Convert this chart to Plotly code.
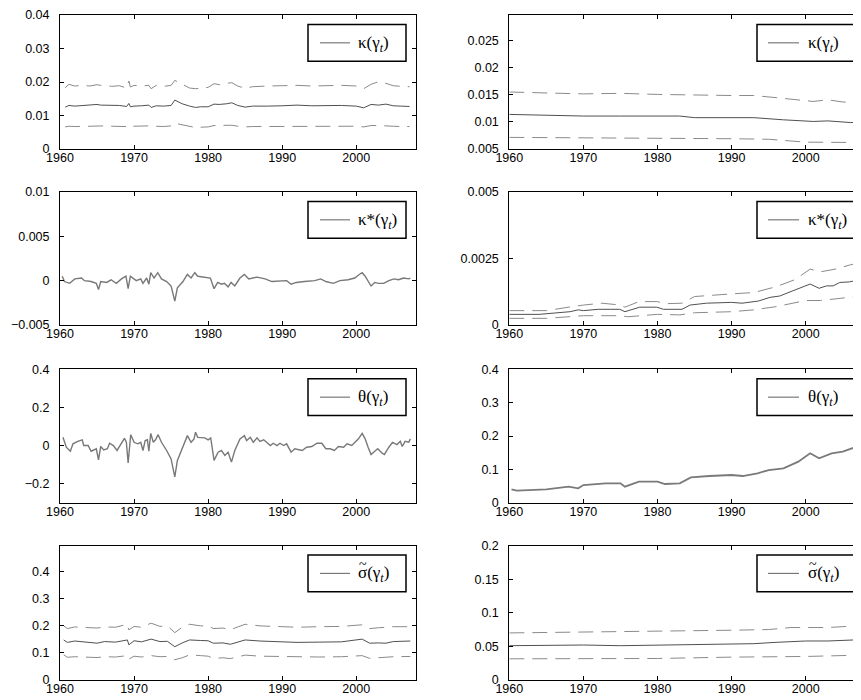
import plotly.graph_objects as go

# page body has an 8px margin, so the figure is drawn 8px smaller and all
# reference pixel positions are shifted by OFF
OFF = 8
W, H = 861 - OFF, 700 - OFF

# ---------------- data ----------------
x_ticks = [1960, 1970, 1980, 1990, 2000]
x_tick_labels = ["1960", "1970", "1980", "1990", "2000"]

# Row 1 left: kappa(gamma_t)
kap_l_years = [1960.7, 1961.2, 1962, 1963, 1964, 1965, 1965.5, 1966, 1967, 1968,
               1969, 1969.3, 1969.5, 1970, 1971, 1972, 1972.3, 1973, 1974, 1975,
               1975.5, 1976.5, 1977.5, 1978.3, 1979, 1980, 1980.8, 1981.5, 1982.5, 1983.2,
               1984, 1985, 1986, 1987, 1988, 1990, 1992, 1994, 1996, 1998,
               2000, 2001, 2002, 2003, 2004, 2005, 2006, 2007.2]
kap_l_mid = [0.0125, 0.0130, 0.0128, 0.0129, 0.0130, 0.0133, 0.0131, 0.0131, 0.0129, 0.0130,
             0.0127, 0.0136, 0.0126, 0.0128, 0.0129, 0.0131, 0.0124, 0.0129, 0.0128, 0.0130,
             0.0146, 0.0135, 0.0128, 0.0124, 0.0126, 0.0126, 0.0134, 0.0133, 0.0135, 0.0138,
             0.0130, 0.0125, 0.0128, 0.0127, 0.0128, 0.0129, 0.0131, 0.0129, 0.0130, 0.0130,
             0.0128, 0.0123, 0.0133, 0.0131, 0.0134, 0.0129, 0.0128, 0.0127]
kap_l_up = [0.0183, 0.0193, 0.0188, 0.0190, 0.0188, 0.0192, 0.0190, 0.0190, 0.0187, 0.0189,
            0.0182, 0.0203, 0.0185, 0.0190, 0.0188, 0.0190, 0.0180, 0.0190, 0.0187, 0.0190,
            0.0205, 0.0193, 0.0182, 0.0180, 0.0182, 0.0184, 0.0195, 0.0192, 0.0196, 0.0198,
            0.0188, 0.0181, 0.0186, 0.0186, 0.0188, 0.0189, 0.0190, 0.0188, 0.0190, 0.0190,
            0.0188, 0.0180, 0.0193, 0.0201, 0.0196, 0.0189, 0.0187, 0.0186]
kap_l_lo = [0.0066, 0.0068, 0.0067, 0.0068, 0.0069, 0.0068, 0.0069, 0.0069, 0.0068, 0.0068,
            0.0067, 0.0070, 0.0066, 0.0068, 0.0068, 0.0069, 0.0066, 0.0068, 0.0067, 0.0069,
            0.0077, 0.0072, 0.0068, 0.0064, 0.0065, 0.0066, 0.0070, 0.0070, 0.0070, 0.0071,
            0.0068, 0.0066, 0.0067, 0.0067, 0.0068, 0.0068, 0.0069, 0.0068, 0.0068, 0.0069,
            0.0068, 0.0066, 0.0070, 0.0070, 0.0070, 0.0068, 0.0067, 0.0067]

# Row 1 right: kappa(gamma_t)
kap_r_years = [1960, 1970, 1975, 1980, 1983, 1985, 1990, 1993, 1997, 2001, 2003, 2006, 2007.5]
kap_r_mid = [0.0114, 0.0111, 0.0111, 0.0111, 0.0111, 0.0108, 0.0108, 0.0108, 0.0104, 0.0101,
             0.0102, 0.0099, 0.0099]
kap_r_up_years = [1960, 1970, 1975, 1980, 1990, 1993, 1996, 2001, 2003, 2005, 2007.5]
kap_r_up = [0.01555, 0.0152, 0.0153, 0.0151, 0.0149, 0.0149, 0.0145, 0.0138, 0.0141, 0.0137, 0.0136]
kap_r_lo_years = [1960, 1970, 1980, 1990, 1995, 2000, 2007.5]
kap_r_lo = [0.00715, 0.0071, 0.0070, 0.0069, 0.0068, 0.00627, 0.0062]

# Row 2 left: kappa*(gamma_t)
ks_l_years = [1960.3, 1960.6, 1961.3, 1962.0, 1962.9, 1963.3, 1964.2, 1964.9, 1965.2, 1965.5,
              1966.3, 1966.9, 1967.6, 1968.3, 1968.9, 1969.2, 1969.5, 1970.3, 1970.9, 1971.2,
              1971.7, 1972.0, 1972.25, 1972.7, 1973.2, 1973.7, 1974.4, 1975.0, 1975.5, 1975.85,
              1976.6, 1977.2, 1977.7, 1978.2, 1978.6, 1979.7, 1980.3, 1980.8, 1981.3, 1981.8,
              1982.2, 1982.7, 1983.1, 1983.6, 1984.3, 1984.9, 1985.5, 1986.6, 1987.7, 1988.6,
              1989.7, 1990.6, 1991.2, 1991.9, 1993.0, 1994.4, 1995.2, 1995.9, 1996.9, 1997.8,
              1998.9, 1999.8, 2000.4, 2000.8, 2001.2, 2001.6, 2002.0, 2002.5, 2003.0, 2003.7,
              2004.4, 2005.1, 2005.7, 2006.4, 2007.1, 2007.3]
ks_l_mid = [0.0005, -0.0001, -0.0003, 0.0002, 0.0003, 0.0000, -0.0001, -0.0003, -0.0010, -0.0001,
            -0.0002, 0.0001, -0.0003, 0.0002, 0.0005, -0.0009, 0.0005, 0.0000, 0.0002, -0.0003,
            0.0003, -0.0004, 0.0009, 0.0003, 0.0009, 0.0002, -0.0001, -0.0006, -0.0023, -0.0008,
            -0.0001, 0.0007, 0.0003, 0.0009, 0.0005, 0.0004, 0.0003, -0.0009, -0.0002, -0.0004,
            -0.0003, -0.0007, -0.0002, -0.0006, 0.0003, 0.0007, 0.0002, 0.0004, 0.0002, -0.0001,
            0.0000, 0.0000, -0.0004, -0.0002, -0.0001, 0.0000, 0.0002, -0.0001, -0.0003, 0.0000,
            0.0001, 0.0003, 0.0007, 0.0009, 0.0005, -0.0001, -0.0006, -0.0002, -0.0003, -0.0003,
            0.0000, 0.0002, 0.0001, 0.0003, 0.0002, 0.0003]

# Row 2 right: kappa*(gamma_t)
ks_r_years = [1960, 1964, 1968.2, 1969.3, 1970, 1972, 1973.6, 1974.9, 1975.6, 1977.6,
              1979.9, 1980.8, 1983.3, 1984.4, 1986.6, 1990, 1991.4, 1993.6, 1995.2, 1996.5,
              1998.3, 2000.1, 2000.6, 2001.8, 2002.8, 2003.7, 2004.6, 2005.9, 2007.5]
ks_r_mid = [0.00040, 0.00040, 0.00050, 0.00057, 0.00054, 0.00059, 0.00059, 0.00059, 0.00050, 0.00067,
            0.00067, 0.00059, 0.00059, 0.00075, 0.00082, 0.00085, 0.00082, 0.00090, 0.00104, 0.00109,
            0.00129, 0.00147, 0.00154, 0.00138, 0.00147, 0.00147, 0.00160, 0.00162, 0.00172]
ks_r_up_years = [1960, 1965, 1968, 1970, 1972.5, 1975, 1975.6, 1977.5, 1980, 1981,
                 1983.3, 1985, 1990, 1993, 1996, 1998.5, 2000.6, 2002, 2004, 2006, 2007.5]
ks_r_up = [0.00054, 0.00054, 0.00067, 0.00075, 0.00082, 0.00075, 0.00067, 0.00088, 0.00088, 0.00080,
           0.00082, 0.00107, 0.00117, 0.00122, 0.00144, 0.00170, 0.00210, 0.00200, 0.00210, 0.00226, 0.00235]
ks_r_lo_years = [1960, 1965, 1970, 1975, 1976, 1980, 1983, 1985, 1990, 1993,
                 1996, 2000, 2002, 2005, 2007.5]
ks_r_lo = [0.00025, 0.00025, 0.00035, 0.00035, 0.00031, 0.00040, 0.00038, 0.00046, 0.00050, 0.00057,
           0.00069, 0.00092, 0.00092, 0.00100, 0.00109]

# Row 3 left: theta(gamma_t)
th_l_years = [1960.4, 1960.85, 1961.4, 1961.75, 1962.4, 1963.0, 1963.2, 1963.8, 1964.2, 1964.9,
              1965.2, 1965.5, 1965.9, 1966.4, 1966.7, 1967.2, 1967.7, 1968.3, 1968.7, 1968.96,
              1969.2, 1969.55, 1970.0, 1970.5, 1970.9, 1971.2, 1971.5, 1971.8, 1972.0, 1972.25,
              1972.6, 1972.9, 1973.25, 1973.7, 1974.15, 1974.4, 1975.0, 1975.5, 1975.85, 1976.6,
              1977.2, 1977.7, 1978.1, 1978.3, 1978.6, 1979.55, 1980.0, 1980.35, 1980.8, 1981.35,
              1981.8, 1982.25, 1982.7, 1983.15, 1983.6, 1984.3, 1984.9, 1985.2, 1985.7, 1986.1,
              1986.6, 1987.0, 1987.5, 1987.9, 1988.4, 1988.8, 1989.3, 1989.7, 1990.2, 1990.6,
              1991.2, 1991.7, 1992.2, 1992.7, 1993.3, 1994.0, 1994.7, 1995.35, 1995.9, 1996.5,
              1997.05, 1997.6, 1998.3, 1998.75, 1999.4, 1999.95, 2000.3, 2000.8, 2001.2, 2001.6,
              2002.0, 2002.5, 2002.9, 2003.5, 2003.8, 2004.4, 2004.9, 2005.5, 2005.95, 2006.2,
              2006.6, 2007.1, 2007.3]
th_l_mid = [0.043, -0.009, -0.030, 0.009, 0.022, 0.030, 0.000, 0.000, -0.030, -0.017,
            -0.075, -0.005, -0.023, -0.017, 0.012, 0.000, -0.026, 0.017, 0.038, 0.017,
            -0.092, 0.057, 0.017, 0.009, 0.017, -0.026, 0.026, 0.030, -0.030, 0.064,
            0.017, 0.030, 0.057, 0.017, -0.009, -0.026, -0.070, -0.165, -0.078, -0.009,
            0.052, 0.017, 0.035, 0.070, 0.043, 0.040, 0.030, 0.040, -0.078, -0.035,
            -0.026, -0.052, -0.035, -0.087, -0.026, 0.035, 0.052, 0.026, 0.043, 0.017,
            0.040, 0.022, 0.030, 0.017, 0.000, 0.012, 0.000, 0.012, 0.000, 0.009,
            -0.035, -0.017, -0.023, -0.026, -0.009, -0.005, 0.012, 0.012, -0.017, -0.017,
            -0.026, -0.005, -0.009, 0.009, 0.000, 0.022, 0.035, 0.064, 0.035, -0.009,
            -0.047, -0.030, -0.017, -0.040, -0.047, -0.009, 0.017, 0.005, 0.022, -0.005,
            0.022, 0.017, 0.035]

# Row 3 right: theta(gamma_t)
th_r_years = [1960.3, 1961, 1965, 1968, 1969.3, 1970, 1973, 1975, 1975.6, 1977.5,
              1980, 1981, 1983, 1984.5, 1987, 1990, 1991.5, 1993.5, 1995, 1997,
              1999, 2000.6, 2001.8, 2003.5, 2005, 2006.5, 2007.7]
th_r_mid = [0.040, 0.036, 0.040, 0.048, 0.043, 0.053, 0.058, 0.058, 0.048, 0.063,
            0.063, 0.056, 0.058, 0.076, 0.080, 0.083, 0.080, 0.088, 0.098, 0.103,
            0.123, 0.148, 0.133, 0.148, 0.153, 0.165, 0.168]

# Row 4 left: sigma-tilde(gamma_t)
sg_l_years = [1960.5, 1961, 1962, 1963.5, 1965, 1966, 1967.5, 1969.1, 1969.3, 1970,
              1971, 1972.3, 1973.5, 1974.5, 1975.5, 1976.5, 1977.5, 1979, 1980, 1980.7,
              1982, 1983, 1985, 1987, 1990, 1992, 1995, 1998, 2000.8, 2001.8,
              2003, 2004, 2005, 2007.3]
sg_l_mid = [0.148, 0.139, 0.144, 0.141, 0.136, 0.142, 0.140, 0.148, 0.130, 0.145,
            0.141, 0.151, 0.142, 0.143, 0.123, 0.137, 0.148, 0.146, 0.145, 0.136,
            0.137, 0.132, 0.148, 0.144, 0.142, 0.139, 0.140, 0.141, 0.151, 0.136,
            0.137, 0.136, 0.142, 0.144]
sg_l_up = [0.200, 0.190, 0.196, 0.195, 0.192, 0.196, 0.195, 0.206, 0.185, 0.198,
           0.195, 0.210, 0.198, 0.200, 0.175, 0.195, 0.206, 0.200, 0.200, 0.190,
           0.192, 0.186, 0.206, 0.200, 0.197, 0.195, 0.197, 0.198, 0.204, 0.190,
           0.193, 0.195, 0.197, 0.197]
sg_l_lo = [0.093, 0.084, 0.086, 0.085, 0.083, 0.086, 0.085, 0.090, 0.077, 0.088,
           0.085, 0.090, 0.086, 0.087, 0.075, 0.082, 0.093, 0.090, 0.088, 0.080,
           0.082, 0.079, 0.092, 0.088, 0.086, 0.085, 0.085, 0.086, 0.090, 0.080,
           0.082, 0.082, 0.086, 0.087]

# Row 4 right: sigma-tilde(gamma_t)
sg_r_years = [1960, 1970, 1975, 1980, 1983, 1990, 1993, 1996, 2000, 2003, 2007.5]
sg_r_mid = [0.051, 0.052, 0.051, 0.052, 0.052, 0.054, 0.054, 0.056, 0.058, 0.058, 0.060]
sg_r_up_years = [1960, 1970, 1980, 1990, 1995, 1998, 2003, 2007.5]
sg_r_up = [0.070, 0.071, 0.072, 0.074, 0.075, 0.078, 0.078, 0.081]
sg_r_lo_years = [1960, 1980, 1990, 2000, 2007.5]
sg_r_lo = [0.0315, 0.032, 0.034, 0.035, 0.037]

legend_labels = ["κ(γ<sub><i>t</i></sub>)", "κ*(γ<sub><i>t</i></sub>)",
                 "θ(γ<sub><i>t</i></sub>)", "σ(γ<sub><i>t</i></sub>)"]

# y-axis settings per panel (range, tick values, tick labels)
y_cfg = {
    1: ([0, 0.04], [0, 0.01, 0.02, 0.03, 0.04], ["0", "0.01", "0.02", "0.03", "0.04"]),
    2: ([0.005, 0.0298], [0.005, 0.01, 0.015, 0.02, 0.025], ["0.005", "0.01", "0.015", "0.02", "0.025"]),
    3: ([-0.005, 0.01], [-0.005, 0, 0.005, 0.01], ["\u22120.005", "0", "0.005", "0.01"]),
    4: ([0, 0.005], [0, 0.0025, 0.005], ["0", "0.0025", "0.005"]),
    5: ([-0.3, 0.4], [-0.2, 0, 0.2, 0.4], ["\u22120.2", "0", "0.2", "0.4"]),
    6: ([0, 0.4], [0, 0.1, 0.2, 0.3, 0.4], ["0", "0.1", "0.2", "0.3", "0.4"]),
    7: ([0, 0.497], [0, 0.1, 0.2, 0.3, 0.4], ["0", "0.1", "0.2", "0.3", "0.4"]),
    8: ([0, 0.2], [0, 0.05, 0.1, 0.15, 0.2], ["0", "0.05", "0.1", "0.15", "0.2"]),
}

# ---------------- layout geometry (reference pixels) ----------------
col_px = {0: (60, 415.5), 1: (509.3, 861)}
row_px = [(15, 149), (192, 325), (369.3, 502.7), (545.5, 680)]
x_rng = {0: [1960, 2008], 1: [1960, 2007.46]}

MID = dict(color="#505050", width=1)
BAND = dict(color="#8a8a8a", width=1, dash="15px,8px")
THIN2 = dict(color="#787878", width=1.4)

fig = go.Figure()


def add(i, xs, ys, line):
    fig.add_trace(go.Scatter(x=xs, y=ys, mode="lines", line=line,
                             xaxis="x" if i == 1 else f"x{i}",
                             yaxis="y" if i == 1 else f"y{i}",
                             showlegend=False, hoverinfo="skip"))


add(1, kap_l_years, kap_l_up, BAND)
add(1, kap_l_years, kap_l_lo, BAND)
add(1, kap_l_years, kap_l_mid, MID)
add(2, kap_r_up_years, kap_r_up, BAND)
add(2, kap_r_lo_years, kap_r_lo, BAND)
add(2, kap_r_years, kap_r_mid, MID)
add(3, ks_l_years, ks_l_mid, THIN2)
add(4, ks_r_up_years, ks_r_up, BAND)
add(4, ks_r_lo_years, ks_r_lo, BAND)
add(4, ks_r_years, ks_r_mid, MID)
add(5, th_l_years, th_l_mid, THIN2)
add(6, th_r_years, th_r_mid, dict(color="#7a7a7a", width=1.8))
add(7, sg_l_years, sg_l_up, BAND)
add(7, sg_l_years, sg_l_lo, BAND)
add(7, sg_l_years, sg_l_mid, MID)
add(8, sg_r_up_years, sg_r_up, BAND)
add(8, sg_r_lo_years, sg_r_lo, BAND)
add(8, sg_r_years, sg_r_mid, MID)

tickfont = dict(family="Liberation Sans, Arial, Helvetica, sans-serif", size=12.5, color="black")
serif = "Liberation Serif, Times New Roman, serif"
layout = dict(width=W, height=H, margin=dict(l=0, r=0, t=0, b=0, autoexpand=False),
              template="none",
              paper_bgcolor="white", plot_bgcolor="white", showlegend=False)
shapes = []
annotations = []

# legend box geometry (reference pixels)
leg_box_x = {0: (308, 406), 1: (757, 855.7)}
leg_line_x = {0: (320, 350), 1: (768, 799)}
leg_text_x = {0: 356, 1: 806}

for r in range(4):
    top, bot = row_px[r]
    for c in range(2):
        i = r * 2 + c + 1
        x0, x1 = col_px[c]
        xs = "" if i == 1 else str(i)
        xd = [(x0 - OFF) / W, min((x1 - OFF) / W, 1.0)]
        yd = [1 - (bot - OFF) / H, 1 - (top - OFF) / H]
        yr, yt, ytl = y_cfg[i]
        layout[f"xaxis{xs}"] = dict(domain=xd, range=x_rng[c], anchor=f"y{xs}",
                                    tickvals=x_ticks, ticktext=x_tick_labels,
                                    showline=True, linecolor="black", linewidth=1,
                                    mirror="ticks", ticks="inside", ticklen=4,
                                    tickcolor="black", tickwidth=1, showgrid=False,
                                    zeroline=False, tickfont=tickfont, automargin=False,
                                    ticklabelstandoff=-3, fixedrange=True)
        layout[f"yaxis{xs}"] = dict(domain=yd, range=yr, anchor=f"x{xs}",
                                    tickvals=yt, ticktext=ytl,
                                    showline=True, linecolor="black", linewidth=1,
                                    mirror="ticks" if c == 0 else False,
                                    ticks="inside", ticklen=4,
                                    tickcolor="black", tickwidth=1, showgrid=False,
                                    zeroline=False, tickfont=tickfont, automargin=False,
                                    ticklabelstandoff=7, fixedrange=True)

        # legend box
        pw = x1 - x0
        ph = bot - top
        bx0, bx1 = leg_box_x[c]
        by0, by1 = top + 9.5, top + 46.2
        fx = lambda px: (px - x0) / pw
        fy = lambda py: 1 - (py - top) / ph
        xref = f"x{xs} domain"
        yref = f"y{xs} domain"
        shapes.append(dict(type="rect", xref=xref, yref=yref,
                           x0=fx(bx0), x1=fx(bx1), y0=fy(by1), y1=fy(by0),
                           line=dict(color="black", width=1.5), fillcolor="white", layer="above"))
        lx0, lx1 = leg_line_x[c]
        ym = (by0 + by1) / 2
        shapes.append(dict(type="line", xref=xref, yref=yref,
                           x0=fx(lx0), x1=fx(lx1), y0=fy(ym), y1=fy(ym),
                           line=dict(color="#606060", width=1), layer="above"))
        annotations.append(dict(xref=xref, yref=yref, x=fx(leg_text_x[c]), y=fy(ym + 1),
                                xanchor="left", yanchor="middle", showarrow=False,
                                text=legend_labels[r],
                                font=dict(family=serif, size=17, color="black")))
        if r == 3:
            # tilde accent over sigma
            annotations.append(dict(xref=xref, yref=yref, x=fx(leg_text_x[c] + 1), y=fy(ym - 9),
                                    xanchor="left", yanchor="middle", showarrow=False,
                                    text="~", font=dict(family=serif, size=14, color="black")))

layout["shapes"] = shapes
layout["annotations"] = annotations
fig.update_layout(**layout)
fig.write_html("out.html")
